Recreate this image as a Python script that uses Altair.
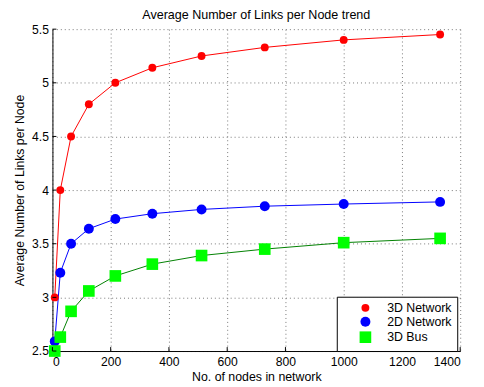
import altair as alt
import pandas as pd

nodes = [8, 27, 64, 125, 216, 343, 512, 729, 1000, 1331]
net3d = [3.0, 4.0, 4.5, 4.8, 5.0, 5.14, 5.25, 5.33, 5.40, 5.45]
net2d = [2.59, 3.23, 3.50, 3.64, 3.73, 3.78, 3.82, 3.85, 3.87, 3.89]
bus3d = [2.50, 2.63, 2.87, 3.06, 3.20, 3.31, 3.39, 3.45, 3.51, 3.55]
series_names = ["3D Network", "2D Network", "3D Bus"]
x_ticks = [0, 200, 400, 600, 800, 1000, 1200, 1400]
y_ticks = [2.5, 3, 3.5, 4, 4.5, 5, 5.5]

rows = []
for name, vals in zip(series_names, [net3d, net2d, bus3d]):
    for n, v in zip(nodes, vals):
        rows.append({"series": name, "line": "L " + name, "nodes": n, "links": v,
                     "order": series_names.index(name)})
df = pd.DataFrame(rows)

FONT = "Liberation Sans"
W, H = 413, 326

xs = alt.Scale(domain=[0, 1400], nice=False, zero=False)
ys = alt.Scale(domain=[2.5, 5.5], nice=False, zero=False)

xax = alt.Axis(values=x_ticks, format="d", title="No. of nodes in network",
               grid=True, gridDash=[1, 3], gridColor="#777", ticks=False,
               domainColor="black", labelColor="black", labelFontSize=12.3,
               labelFont=FONT, titleFont=FONT, titleFontSize=12.5,
               titleFontWeight="normal", titleColor="black", labelPadding=5,
               titlePadding=3)
yax = alt.Axis(values=y_ticks, format="~g", title="Average Number of Links per Node",
               grid=True, gridDash=[1, 3], gridColor="#777", ticks=False,
               domainColor="black", labelColor="black", labelFontSize=12.3,
               labelFont=FONT, titleFont=FONT, titleFontSize=12.4,
               titleFontWeight="normal", titleColor="black", labelPadding=4,
               titlePadding=5)

base = alt.Chart(df)

lines = base.mark_line(strokeWidth=1).encode(
    x=alt.X("nodes:Q", scale=xs, axis=xax),
    y=alt.Y("links:Q", scale=ys, axis=yax),
    stroke=alt.Stroke("line:N", scale=alt.Scale(domain=["L " + s for s in series_names],
                      range=["#ff0000", "#0000ff", "#008000"]), legend=None),
)

legend = alt.Legend(title=None, orient="none", legendX=288, legendY=271,
                    strokeColor="black", fillColor="white", padding=5,
                    labelFont=FONT, labelFontSize=12.5, labelColor="black",
                    symbolOffset=17, labelOffset=15, rowPadding=-2)

points = base.mark_point(filled=True, opacity=1).encode(
    x=alt.X("nodes:Q", scale=xs),
    y=alt.Y("links:Q", scale=ys),
    fill=alt.Fill("series:N", scale=alt.Scale(domain=series_names,
                  range=["#ff0000", "#0000ff", "#00ff00"]), legend=legend),
    shape=alt.Shape("series:N", scale=alt.Scale(domain=series_names,
                    range=["circle", "circle", "square"]), legend=legend),
    size=alt.Size("series:N", scale=alt.Scale(domain=series_names,
                  range=[64, 139, 161]), legend=legend),
    order=alt.Order("order:Q"),
)

xt = alt.Chart(pd.DataFrame({"t": x_ticks})).mark_rule(color="black").encode(
    x=alt.X("t:Q", scale=xs), y=alt.value(H), y2=alt.value(H - 4))
yt = alt.Chart(pd.DataFrame({"t": y_ticks})).mark_rule(color="black").encode(
    y=alt.Y("t:Q", scale=ys), x=alt.value(0), x2=alt.value(4))

chart = alt.layer(lines, points, xt, yt).properties(
    width=W, height=H,
    title=alt.Title("Average Number of Links per Node trend", font=FONT,
                    fontSize=12.7, fontWeight="normal", color="black", offset=2),
    autosize=alt.AutoSizeParams(type="none"),
    padding={"left": 45, "top": 19, "right": 16, "bottom": 34},
).configure_view(stroke=None).configure_axis(domainWidth=1)

chart.save("out.html", embed_options={"renderer": "svg", "actions": False})
